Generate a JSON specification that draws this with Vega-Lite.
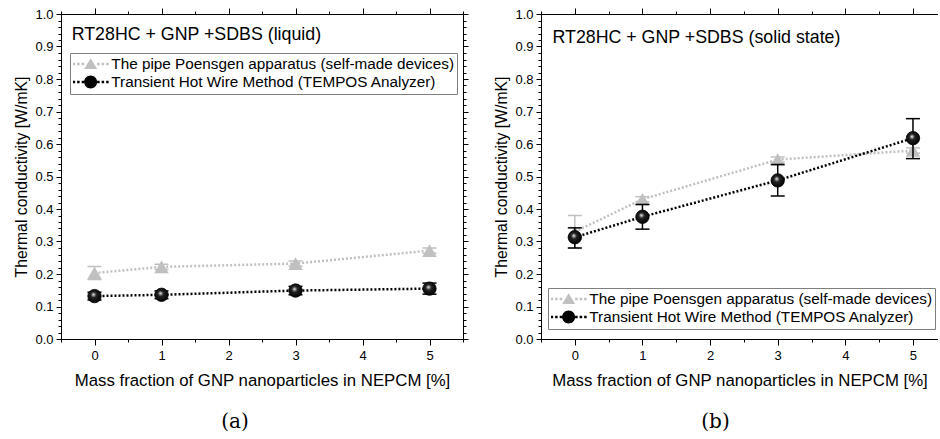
{
  "$schema": "https://vega.github.io/schema/vega-lite/v6.json",
  "padding": {"left": 13, "top": 7, "right": 0, "bottom": 0},
  "background": "white",
  "datasets": {
    "liq": [
      {"series": "The pipe Poensgen apparatus (self-made devices)", "x": 0, "y": 0.203, "lo": 0.183, "hi": 0.223},
      {"series": "The pipe Poensgen apparatus (self-made devices)", "x": 1, "y": 0.222, "lo": 0.214, "hi": 0.23},
      {"series": "The pipe Poensgen apparatus (self-made devices)", "x": 3, "y": 0.232, "lo": 0.224, "hi": 0.24},
      {"series": "The pipe Poensgen apparatus (self-made devices)", "x": 5, "y": 0.272, "lo": 0.264, "hi": 0.28},
      {"series": "Transient Hot Wire Method (TEMPOS Analyzer)", "x": 0, "y": 0.132, "lo": 0.12, "hi": 0.144},
      {"series": "Transient Hot Wire Method (TEMPOS Analyzer)", "x": 1, "y": 0.136, "lo": 0.124, "hi": 0.148},
      {"series": "Transient Hot Wire Method (TEMPOS Analyzer)", "x": 3, "y": 0.149, "lo": 0.136, "hi": 0.162},
      {"series": "Transient Hot Wire Method (TEMPOS Analyzer)", "x": 5, "y": 0.155, "lo": 0.138, "hi": 0.172}
    ],
    "sol": [
      {"series": "The pipe Poensgen apparatus (self-made devices)", "x": 0, "y": 0.33, "lo": 0.28, "hi": 0.38},
      {"series": "The pipe Poensgen apparatus (self-made devices)", "x": 1, "y": 0.43, "lo": 0.422, "hi": 0.438},
      {"series": "The pipe Poensgen apparatus (self-made devices)", "x": 3, "y": 0.552, "lo": 0.544, "hi": 0.56},
      {"series": "The pipe Poensgen apparatus (self-made devices)", "x": 5, "y": 0.58, "lo": 0.572, "hi": 0.588},
      {"series": "Transient Hot Wire Method (TEMPOS Analyzer)", "x": 0, "y": 0.313, "lo": 0.28, "hi": 0.342},
      {"series": "Transient Hot Wire Method (TEMPOS Analyzer)", "x": 1, "y": 0.376, "lo": 0.338, "hi": 0.414},
      {"series": "Transient Hot Wire Method (TEMPOS Analyzer)", "x": 3, "y": 0.488, "lo": 0.44, "hi": 0.537},
      {"series": "Transient Hot Wire Method (TEMPOS Analyzer)", "x": 5, "y": 0.618, "lo": 0.555, "hi": 0.678}
    ]
  },
  "hconcat": [
    {
      "width": 402,
      "height": 325,
      "data": {"name": "liq"},
      "title": {"text": "(a)", "orient": "bottom", "anchor": "middle", "font": "DejaVu Serif", "fontSize": 20, "fontWeight": "normal", "color": "#000", "dx": -27, "offset": 23},
      "layer": [
        {
          "mark": {"type": "line", "strokeDash": [2, 2], "strokeWidth": 2.5},
          "encoding": {
            "x": {"field": "x", "type": "quantitative", "scale": {"domain": [-0.5, 5.5], "nice": false, "zero": false},
              "axis": {"title": "Mass fraction of GNP nanoparticles in NEPCM [%]", "titleFontSize": 16.8, "values": [-0.5, 0, 0.5, 1, 1.5, 2, 2.5, 3, 3.5, 4, 4.5, 5, 5.5], "labelExpr": "datum.value % 1 === 0 ? format(datum.value, 'd') : ''", "tickSize": {"condition": {"test": "datum.value % 1 === 0", "value": 6}, "value": 3}, "labelPadding": 4, "titlePadding": 10, "labelFlush": false, "labelOverlap": false}},
            "y": {"field": "y", "type": "quantitative", "scale": {"domain": [0, 1], "nice": false, "zero": false},
              "axis": {"title": "Thermal conductivity [W/mK]", "titleFontSize": 15.8, "values": [0, 0.02, 0.04, 0.06, 0.08, 0.1, 0.12, 0.14, 0.16, 0.18, 0.2, 0.22, 0.24, 0.26, 0.28, 0.3, 0.32, 0.34, 0.36, 0.38, 0.4, 0.42, 0.44, 0.46, 0.48, 0.5, 0.52, 0.54, 0.56, 0.58, 0.6, 0.62, 0.64, 0.66, 0.68, 0.7, 0.72, 0.74, 0.76, 0.78, 0.8, 0.82, 0.84, 0.86, 0.88, 0.9, 0.92, 0.94, 0.96, 0.98, 1], "labelExpr": "abs(datum.value*10 - round(datum.value*10)) < 0.001 ? format(datum.value, '.1f') : ''", "tickSize": {"condition": {"test": "abs(datum.value*10 - round(datum.value*10)) < 0.001", "value": 5}, "value": 3}, "labelPadding": 3, "titlePadding": 5, "labelFlush": false, "labelOverlap": false}},
            "color": {"field": "series", "type": "nominal",
              "scale": {"domain": ["The pipe Poensgen apparatus (self-made devices)", "Transient Hot Wire Method (TEMPOS Analyzer)"], "range": ["#c0c0c0", "#000000"]},
              "legend": {"title": null, "orient": "none", "legendX": 9, "legendY": 39, "padding": 3, "strokeColor": "#7f7f7f", "fillColor": "white", "symbolSize": 169, "symbolOffset": 10, "labelOffset": 13, "labelFont": "Liberation Sans", "labelFontSize": 15.3, "labelColor": "#000", "labelLimit": 500, "rowPadding": 1, "clipHeight": 16,
                "encode": {"symbols": {"update": {
                  "shape": {"signal": "(indexof(datum.value, 'Transient') === 0 ? 'M1,0A1,1,0,1,1,-1,0A1,1,0,1,1,1,0Z' : 'M0,-0.9L1,0.75L-1,0.75Z') + 'M-2.77,-0.19L-2.385,-0.19L-2.385,0.195L-2.77,0.195ZM-2.08,-0.19L-1.695,-0.19L-1.695,0.195L-2.08,0.195ZM-1.38,-0.19L-0.995,-0.19L-0.995,0.195L-1.38,0.195ZM1,-0.19L1.385,-0.19L1.385,0.195L1,0.195ZM1.69,-0.19L2.075,-0.19L2.075,0.195L1.69,0.195ZM2.385,-0.19L2.77,-0.19L2.77,0.195L2.385,0.195Z'"},
                  "fill": {"signal": "indexof(datum.value, 'Transient') === 0 ? '#000000' : '#c0c0c0'"},
                  "strokeWidth": {"value": 0},
                  "size": {"value": 169},
                  "opacity": {"value": 1}
                }}}}}
          }
        },
        {
          "transform": [{"filter": "indexof(datum.series, 'The pipe') === 0"}],
          "mark": {"type": "rule", "color": "#c0c0c0", "strokeWidth": 1.5},
          "encoding": {
            "x": {"field": "x", "type": "quantitative", "scale": {"domain": [-0.5, 5.5], "nice": false, "zero": false}, "axis": null},
            "y": {"field": "lo", "type": "quantitative", "scale": {"domain": [0, 1], "nice": false, "zero": false}, "axis": null},
            "y2": {"field": "hi"}
          }
        },
        {
          "transform": [{"filter": "indexof(datum.series, 'The pipe') === 0"}, {"fold": ["lo", "hi"], "as": ["k", "v"]}],
          "mark": {"type": "tick", "orient": "horizontal", "color": "#c0c0c0", "size": 14, "thickness": 1.5, "opacity": 1},
          "encoding": {
            "x": {"field": "x", "type": "quantitative", "scale": {"domain": [-0.5, 5.5], "nice": false, "zero": false}, "axis": null},
            "y": {"field": "v", "type": "quantitative", "scale": {"domain": [0, 1], "nice": false, "zero": false}, "axis": null}
          }
        },
        {
          "transform": [{"filter": "indexof(datum.series, 'The pipe') === 0"}],
          "mark": {"type": "point", "shape": "triangle-up", "filled": true, "color": "#c0c0c0", "size": 210, "opacity": 1},
          "encoding": {
            "x": {"field": "x", "type": "quantitative", "scale": {"domain": [-0.5, 5.5], "nice": false, "zero": false}, "axis": null},
            "y": {"field": "y", "type": "quantitative", "scale": {"domain": [0, 1], "nice": false, "zero": false}, "axis": null}
          }
        },
        {
          "transform": [{"filter": "indexof(datum.series, 'Transient') === 0"}],
          "mark": {"type": "rule", "color": "#000000", "strokeWidth": 1.5},
          "encoding": {
            "x": {"field": "x", "type": "quantitative", "scale": {"domain": [-0.5, 5.5], "nice": false, "zero": false}, "axis": null},
            "y": {"field": "lo", "type": "quantitative", "scale": {"domain": [0, 1], "nice": false, "zero": false}, "axis": null},
            "y2": {"field": "hi"}
          }
        },
        {
          "transform": [{"filter": "indexof(datum.series, 'Transient') === 0"}, {"fold": ["lo", "hi"], "as": ["k", "v"]}],
          "mark": {"type": "tick", "orient": "horizontal", "color": "#000000", "size": 14, "thickness": 1.5, "opacity": 1},
          "encoding": {
            "x": {"field": "x", "type": "quantitative", "scale": {"domain": [-0.5, 5.5], "nice": false, "zero": false}, "axis": null},
            "y": {"field": "v", "type": "quantitative", "scale": {"domain": [0, 1], "nice": false, "zero": false}, "axis": null}
          }
        },
        {
          "transform": [{"filter": "indexof(datum.series, 'Transient') === 0"}],
          "mark": {"type": "point", "shape": "circle", "filled": true, "size": 180, "opacity": 1, "stroke": "#000000", "strokeWidth": 0.8,
            "fill": {"gradient": "radial", "x1": 0.42, "y1": 0.38, "r1": 0.01, "x2": 0.46, "y2": 0.46, "r2": 0.58, "stops": [{"offset": 0, "color": "#ffffff"}, {"offset": 0.12, "color": "#a0a0a0"}, {"offset": 0.35, "color": "#222222"}, {"offset": 1, "color": "#000000"}]}},
          "encoding": {
            "x": {"field": "x", "type": "quantitative", "scale": {"domain": [-0.5, 5.5], "nice": false, "zero": false}, "axis": null},
            "y": {"field": "y", "type": "quantitative", "scale": {"domain": [0, 1], "nice": false, "zero": false}, "axis": null}
          }
        },
        {
          "data": {"values": [{"t": "RT28HC + GNP +SDBS (liquid)", "x": -0.34, "y": 0.935}]},
          "mark": {"type": "text", "align": "left", "baseline": "middle", "font": "Liberation Sans", "fontSize": 17.8, "color": "#000"},
          "encoding": {
            "x": {"field": "x", "type": "quantitative", "scale": {"domain": [-0.5, 5.5], "nice": false, "zero": false}, "axis": null},
            "y": {"field": "y", "type": "quantitative", "scale": {"domain": [0, 1], "nice": false, "zero": false}, "axis": null},
            "text": {"field": "t"}
          }
        },
        {
          "mark": {"type": "point", "opacity": 0},
          "encoding": {
            "x": {"field": "x", "type": "quantitative", "scale": {"domain": [-0.5, 5.5], "nice": false, "zero": false},
              "axis": {"orient": "top", "title": null, "labels": false, "values": [-0.5, 0, 0.5, 1, 1.5, 2, 2.5, 3, 3.5, 4, 4.5, 5, 5.5], "tickSize": {"condition": {"test": "datum.value % 1 === 0", "value": 6}, "value": 3}}},
            "y": {"field": "y", "type": "quantitative", "scale": {"domain": [0, 1], "nice": false, "zero": false},
              "axis": {"orient": "right", "title": null, "labels": false, "values": [0, 0.02, 0.04, 0.06, 0.08, 0.1, 0.12, 0.14, 0.16, 0.18, 0.2, 0.22, 0.24, 0.26, 0.28, 0.3, 0.32, 0.34, 0.36, 0.38, 0.4, 0.42, 0.44, 0.46, 0.48, 0.5, 0.52, 0.54, 0.56, 0.58, 0.6, 0.62, 0.64, 0.66, 0.68, 0.7, 0.72, 0.74, 0.76, 0.78, 0.8, 0.82, 0.84, 0.86, 0.88, 0.9, 0.92, 0.94, 0.96, 0.98, 1], "tickSize": {"condition": {"test": "abs(datum.value*10 - round(datum.value*10)) < 0.001", "value": 5}, "value": 3}}}
          }
        }
      ],
      "resolve": {"axis": {"x": "independent", "y": "independent"}}
    },
    {
      "width": 397,
      "height": 325,
      "data": {"name": "sol"},
      "title": {"text": "(b)", "orient": "bottom", "anchor": "middle", "font": "DejaVu Serif", "fontSize": 20, "fontWeight": "normal", "color": "#000", "dx": -24, "offset": 23},
      "layer": [
        {
          "mark": {"type": "line", "strokeDash": [2, 2], "strokeWidth": 2.5},
          "encoding": {
            "x": {"field": "x", "type": "quantitative", "scale": {"domain": [-0.5, 5.37], "nice": false, "zero": false},
              "axis": {"title": "Mass fraction of GNP nanoparticles in NEPCM [%]", "titleFontSize": 16.8, "values": [-0.5, 0, 0.5, 1, 1.5, 2, 2.5, 3, 3.5, 4, 4.5, 5], "labelExpr": "datum.value % 1 === 0 ? format(datum.value, 'd') : ''", "tickSize": {"condition": {"test": "datum.value % 1 === 0", "value": 6}, "value": 3}, "labelPadding": 4, "titlePadding": 10, "labelFlush": false, "labelOverlap": false}},
            "y": {"field": "y", "type": "quantitative", "scale": {"domain": [0, 1], "nice": false, "zero": false},
              "axis": {"title": "Thermal conductivity [W/mK]", "titleFontSize": 15.8, "values": [0, 0.02, 0.04, 0.06, 0.08, 0.1, 0.12, 0.14, 0.16, 0.18, 0.2, 0.22, 0.24, 0.26, 0.28, 0.3, 0.32, 0.34, 0.36, 0.38, 0.4, 0.42, 0.44, 0.46, 0.48, 0.5, 0.52, 0.54, 0.56, 0.58, 0.6, 0.62, 0.64, 0.66, 0.68, 0.7, 0.72, 0.74, 0.76, 0.78, 0.8, 0.82, 0.84, 0.86, 0.88, 0.9, 0.92, 0.94, 0.96, 0.98, 1], "labelExpr": "abs(datum.value*10 - round(datum.value*10)) < 0.001 ? format(datum.value, '.1f') : ''", "tickSize": {"condition": {"test": "abs(datum.value*10 - round(datum.value*10)) < 0.001", "value": 5}, "value": 3}, "labelPadding": 3, "titlePadding": 5, "labelFlush": false, "labelOverlap": false}},
            "color": {"field": "series", "type": "nominal",
              "scale": {"domain": ["The pipe Poensgen apparatus (self-made devices)", "Transient Hot Wire Method (TEMPOS Analyzer)"], "range": ["#c0c0c0", "#000000"]},
              "legend": {"title": null, "orient": "none", "legendX": 7, "legendY": 274, "padding": 3, "strokeColor": "#7f7f7f", "fillColor": "white", "symbolSize": 169, "symbolOffset": 10, "labelOffset": 13, "labelFont": "Liberation Sans", "labelFontSize": 15.3, "labelColor": "#000", "labelLimit": 500, "rowPadding": 1, "clipHeight": 16,
                "encode": {"symbols": {"update": {
                  "shape": {"signal": "(indexof(datum.value, 'Transient') === 0 ? 'M1,0A1,1,0,1,1,-1,0A1,1,0,1,1,1,0Z' : 'M0,-0.9L1,0.75L-1,0.75Z') + 'M-2.77,-0.19L-2.385,-0.19L-2.385,0.195L-2.77,0.195ZM-2.08,-0.19L-1.695,-0.19L-1.695,0.195L-2.08,0.195ZM-1.38,-0.19L-0.995,-0.19L-0.995,0.195L-1.38,0.195ZM1,-0.19L1.385,-0.19L1.385,0.195L1,0.195ZM1.69,-0.19L2.075,-0.19L2.075,0.195L1.69,0.195ZM2.385,-0.19L2.77,-0.19L2.77,0.195L2.385,0.195Z'"},
                  "fill": {"signal": "indexof(datum.value, 'Transient') === 0 ? '#000000' : '#c0c0c0'"},
                  "strokeWidth": {"value": 0},
                  "size": {"value": 169},
                  "opacity": {"value": 1}
                }}}}}
          }
        },
        {
          "transform": [{"filter": "indexof(datum.series, 'The pipe') === 0"}],
          "mark": {"type": "rule", "color": "#c0c0c0", "strokeWidth": 1.5},
          "encoding": {
            "x": {"field": "x", "type": "quantitative", "scale": {"domain": [-0.5, 5.37], "nice": false, "zero": false}, "axis": null},
            "y": {"field": "lo", "type": "quantitative", "scale": {"domain": [0, 1], "nice": false, "zero": false}, "axis": null},
            "y2": {"field": "hi"}
          }
        },
        {
          "transform": [{"filter": "indexof(datum.series, 'The pipe') === 0"}, {"fold": ["lo", "hi"], "as": ["k", "v"]}],
          "mark": {"type": "tick", "orient": "horizontal", "color": "#c0c0c0", "size": 14, "thickness": 1.5, "opacity": 1},
          "encoding": {
            "x": {"field": "x", "type": "quantitative", "scale": {"domain": [-0.5, 5.37], "nice": false, "zero": false}, "axis": null},
            "y": {"field": "v", "type": "quantitative", "scale": {"domain": [0, 1], "nice": false, "zero": false}, "axis": null}
          }
        },
        {
          "transform": [{"filter": "indexof(datum.series, 'The pipe') === 0"}],
          "mark": {"type": "point", "shape": "triangle-up", "filled": true, "color": "#c0c0c0", "size": 210, "opacity": 1},
          "encoding": {
            "x": {"field": "x", "type": "quantitative", "scale": {"domain": [-0.5, 5.37], "nice": false, "zero": false}, "axis": null},
            "y": {"field": "y", "type": "quantitative", "scale": {"domain": [0, 1], "nice": false, "zero": false}, "axis": null}
          }
        },
        {
          "transform": [{"filter": "indexof(datum.series, 'Transient') === 0"}],
          "mark": {"type": "rule", "color": "#000000", "strokeWidth": 1.5},
          "encoding": {
            "x": {"field": "x", "type": "quantitative", "scale": {"domain": [-0.5, 5.37], "nice": false, "zero": false}, "axis": null},
            "y": {"field": "lo", "type": "quantitative", "scale": {"domain": [0, 1], "nice": false, "zero": false}, "axis": null},
            "y2": {"field": "hi"}
          }
        },
        {
          "transform": [{"filter": "indexof(datum.series, 'Transient') === 0"}, {"fold": ["lo", "hi"], "as": ["k", "v"]}],
          "mark": {"type": "tick", "orient": "horizontal", "color": "#000000", "size": 14, "thickness": 1.5, "opacity": 1},
          "encoding": {
            "x": {"field": "x", "type": "quantitative", "scale": {"domain": [-0.5, 5.37], "nice": false, "zero": false}, "axis": null},
            "y": {"field": "v", "type": "quantitative", "scale": {"domain": [0, 1], "nice": false, "zero": false}, "axis": null}
          }
        },
        {
          "transform": [{"filter": "indexof(datum.series, 'Transient') === 0"}],
          "mark": {"type": "point", "shape": "circle", "filled": true, "size": 180, "opacity": 1, "stroke": "#000000", "strokeWidth": 0.8,
            "fill": {"gradient": "radial", "x1": 0.42, "y1": 0.38, "r1": 0.01, "x2": 0.46, "y2": 0.46, "r2": 0.58, "stops": [{"offset": 0, "color": "#ffffff"}, {"offset": 0.12, "color": "#a0a0a0"}, {"offset": 0.35, "color": "#222222"}, {"offset": 1, "color": "#000000"}]}},
          "encoding": {
            "x": {"field": "x", "type": "quantitative", "scale": {"domain": [-0.5, 5.37], "nice": false, "zero": false}, "axis": null},
            "y": {"field": "y", "type": "quantitative", "scale": {"domain": [0, 1], "nice": false, "zero": false}, "axis": null}
          }
        },
        {
          "data": {"values": [{"t": "RT28HC + GNP +SDBS (solid state)", "x": -0.33, "y": 0.925}]},
          "mark": {"type": "text", "align": "left", "baseline": "middle", "font": "Liberation Sans", "fontSize": 17.8, "color": "#000"},
          "encoding": {
            "x": {"field": "x", "type": "quantitative", "scale": {"domain": [-0.5, 5.37], "nice": false, "zero": false}, "axis": null},
            "y": {"field": "y", "type": "quantitative", "scale": {"domain": [0, 1], "nice": false, "zero": false}, "axis": null},
            "text": {"field": "t"}
          }
        },
        {
          "mark": {"type": "point", "opacity": 0},
          "encoding": {
            "x": {"field": "x", "type": "quantitative", "scale": {"domain": [-0.5, 5.37], "nice": false, "zero": false},
              "axis": {"orient": "top", "title": null, "labels": false, "values": [-0.5, 0, 0.5, 1, 1.5, 2, 2.5, 3, 3.5, 4, 4.5, 5], "tickSize": {"condition": {"test": "datum.value % 1 === 0", "value": 6}, "value": 3}}},
            "y": {"field": "y", "type": "quantitative", "scale": {"domain": [0, 1], "nice": false, "zero": false}, "axis": null}
          }
        }
      ],
      "resolve": {"axis": {"x": "independent", "y": "independent"}}
    }
  ],
  "spacing": 24,
  "resolve": {"scale": {"color": "independent"}},
  "config": {
    "view": {"stroke": null},
    "axis": {"grid": false, "domainColor": "#000", "tickColor": "#000", "labelColor": "#000", "titleColor": "#000", "labelFont": "Liberation Sans", "titleFont": "Liberation Sans", "labelFontSize": 13, "titleFontSize": 16, "titleFontWeight": "normal", "tickWidth": 1, "domainWidth": 1}
  }
}
